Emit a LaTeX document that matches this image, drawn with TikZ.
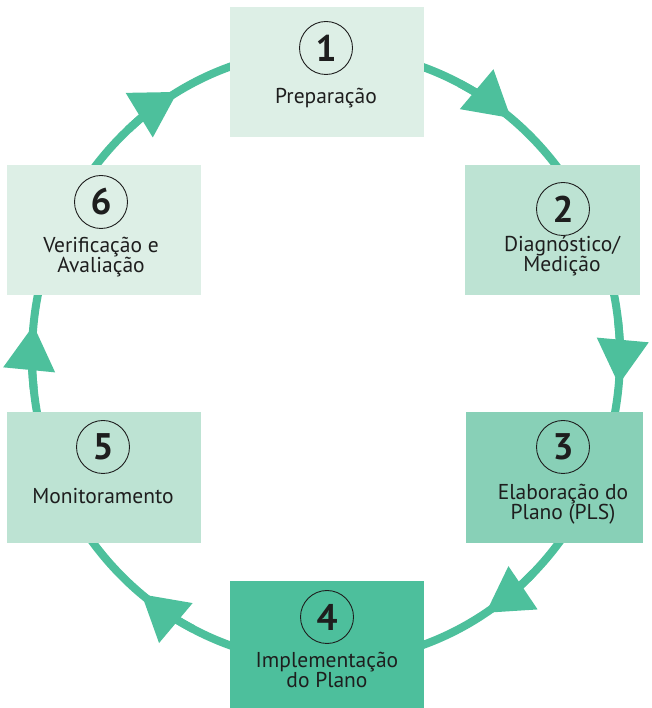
\documentclass[tikz,border=0pt]{standalone}
\usepackage{fontspec}
\setmainfont{PT Sans}
\usetikzlibrary{arrows.meta,calc}
\definecolor{ringc}{HTML}{4DC09C}
\definecolor{cA}{HTML}{DDEFE6}
\definecolor{cB}{HTML}{BDE3D3}
\definecolor{cC}{HTML}{88D0B7}
\definecolor{cD}{HTML}{4DBF9C}
\definecolor{txt}{HTML}{1E1E1E}
\begin{document}
\begin{tikzpicture}[x=1pt,y=1pt,
  ring/.style={draw=ringc,line width=8pt},
  tipmark/.style={ring,-{Triangle[length=45pt,width=50pt]}},
  stagebox/.style={rectangle,inner sep=0pt,draw=none},
  numcirc/.style={circle,draw=txt,line width=0.9pt,minimum size=53pt,inner sep=0pt,
    font=\fontsize{37}{37}\selectfont\bfseries,text=txt},
  lbl/.style={align=center,font=\fontsize{21.5}{18.5}\selectfont,text=txt,inner sep=0pt}]
\useasboundingbox (0,0) rectangle (651,708);
\coordinate (C) at (326,352);
% ring
\draw[ring] (C) ellipse [x radius=294, y radius=306];
% arrowheads
\foreach \a in {51,-5.4,-57.1,-128.9,174.2,120.3}{
  \draw[tipmark] ($(C)+(\a+12:294 and 306)$) arc[start angle=\a+12, end angle=\a, x radius=294, y radius=306];
}
% boxes
\node[stagebox,fill=cA,minimum width=194pt,minimum height=130pt] (b1) at (326.5,636) {};
\node[stagebox,fill=cB,minimum width=175pt,minimum height=130pt] (b2) at (552.5,478) {};
\node[stagebox,fill=cC,minimum width=177pt,minimum height=131pt] (b3) at (554.5,230.5) {};
\node[stagebox,fill=cD,minimum width=194pt,minimum height=127pt] (b4) at (326.5,63.5) {};
\node[stagebox,fill=cB,minimum width=194pt,minimum height=131pt] (b5) at (104,230.5) {};
\node[stagebox,fill=cA,minimum width=194pt,minimum height=130pt] (b6) at (104,478) {};
% numbers
\node[numcirc] (n1) at (326,660) {1};
\node[numcirc] (n2) at (563,499) {2};
\node[numcirc] (n3) at (563,261) {3};
\node[numcirc] (n4) at (327,91) {4};
\node[numcirc] (n5) at (103,261) {5};
\node[numcirc] (n6) at (101,506) {6};
% labels (anchor base = baseline of last line)
\node[lbl,anchor=base] (l1) at (326,604) {Preparação};
\node[lbl,anchor=base] (l2) at (562,436) {Diagnóstico/\\Medição};
\node[lbl,anchor=base] (l3) at (563,188) {Elaboração do\\Plano (PLS)};
\node[lbl,anchor=base] (l4) at (327,20) {Implementação\\do Plano};
\node[lbl,anchor=base] (l5) at (103,204) {Monitoramento};
\node[lbl,anchor=base] (l6) at (101,435) {Verificação e\\Avaliação};
\end{tikzpicture}
\end{document}
